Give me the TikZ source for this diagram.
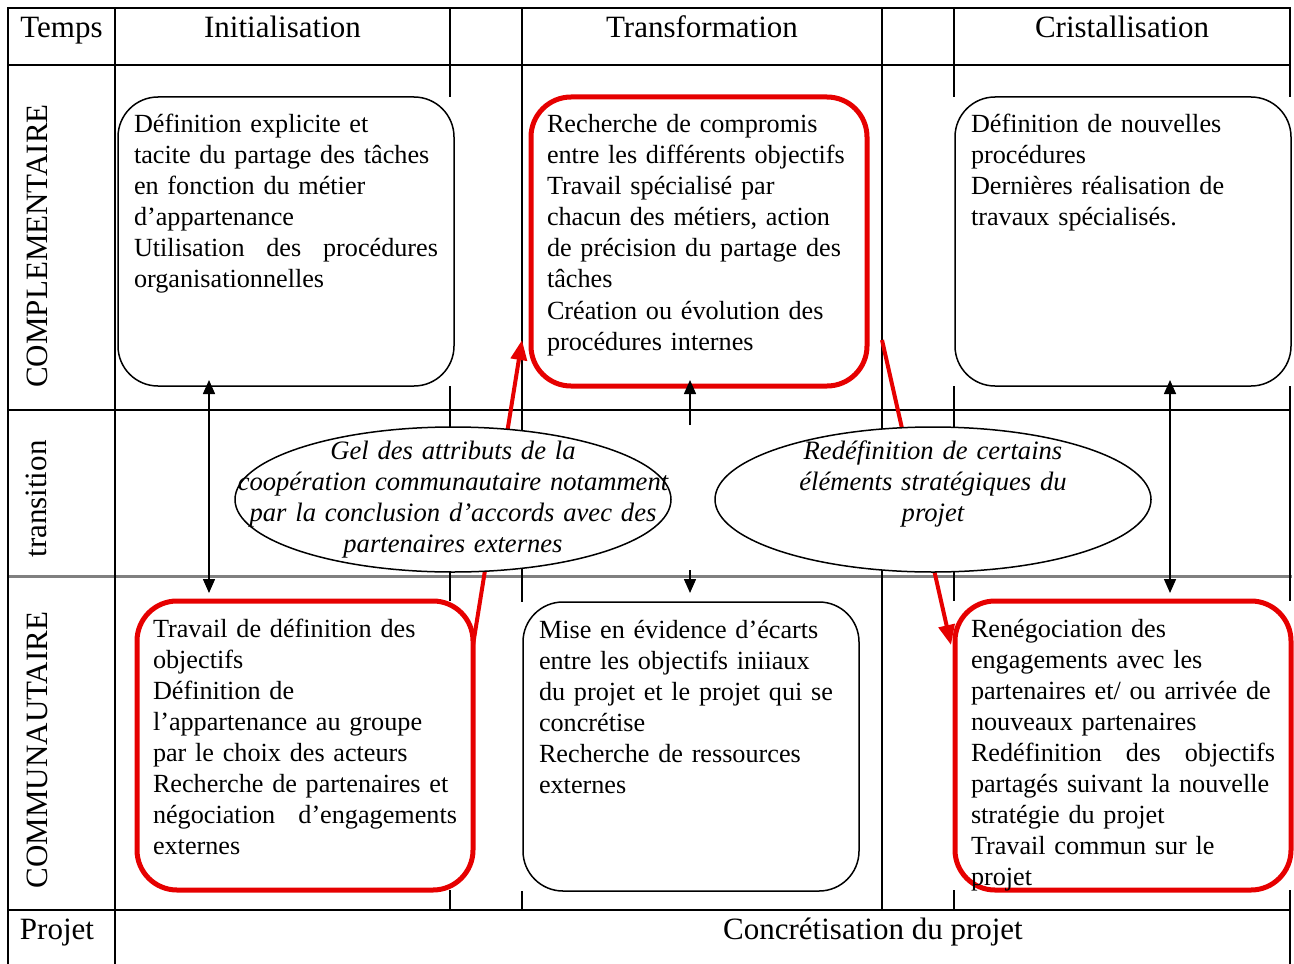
\documentclass[tikz,border=0pt]{standalone}
\usepackage{fontspec}
\setmainfont{Liberation Serif}
\usetikzlibrary{arrows.meta,shapes.geometric}
\definecolor{cpred}{HTML}{E60000}
\definecolor{cpgrey}{HTML}{808080}
\pgfdeclarelayer{grid}
\pgfdeclarelayer{cover}
\pgfsetlayers{grid,cover,main}
\hyphenpenalty=10000
\exhyphenpenalty=10000
\tikzset{
  cp rule/.style={line width=1pt, draw=black, line cap=rect},
  cp head/.style={font=\fontsize{15.5}{18}\selectfont, anchor=base},
  cp box/.style={draw=black, line width=0.75pt, rounded corners=20pt, anchor=north west,
    outer sep=0pt, text width=152pt, inner xsep=8pt, inner ysep=6pt,
    text height=12pt, text depth=120.5pt, align=left,
    font=\fontsize{13.1}{15.5}\selectfont},
  cp redbox/.style={cp box, draw=cpred, line width=2.5pt},
  cp oval/.style={ellipse, draw=black, line width=0.75pt, fill=white,
    minimum width=218pt, minimum height=72.5pt, inner xsep=-40pt, inner ysep=-6pt,
    text width=220pt, text height=9pt, text depth=49.5pt, align=center,
    font=\fontsize{13.3}{15.5}\selectfont\itshape},
  cp pair/.style={{Triangle[length=7pt,width=6pt]}-{Triangle[length=7pt,width=6pt]},
    line width=0.75pt},
  cp single/.style={-{Triangle[length=7pt,width=6pt]}, line width=0.75pt},
  cp link/.style={-{Triangle[length=10pt,width=8pt]}, line width=2pt, draw=cpred}
}
\begin{document}
\begin{tikzpicture}[x=0.5pt, y=-0.5pt]
  \useasboundingbox (0,0) rectangle (1294,963);
  \begin{pgfonlayer}{grid}
    \foreach \y in {8,65,410,910} \draw[cp rule] (8,\y) -- (1290,\y);
    \draw[cp rule, draw=cpgrey, line width=1.5pt] (8,576) -- (1290,576);
    \foreach \x in {8,115,1290} \draw[cp rule] (\x,8) -- (\x,963);
    \foreach \x in {450,522,882,954} \draw[cp rule] (\x,8) -- (\x,910);
  \end{pgfonlayer}

  \node[cp head] (temps) at (61.5,38) {Temps};
  \node[cp head] (init) at (282.5,38) {Initialisation};
  \node[cp head] (trans) at (702,38) {Transformation};
  \node[cp head] (crist) at (1122,38) {Cristallisation};
  \node[cp head, rotate=90] (compl) at (47,246) {COMPLEMENTAIRE};
  \node[cp head, rotate=90] (trlab) at (46,499) {transition};
  \node[cp head, rotate=90] (commu) at (47,750) {COMMUNAUTAIRE};
  \node[cp head] (projet) at (57,939) {Projet};
  \node[cp head] (concr) at (873,939) {Concrétisation du projet};

  \node[cp box] (a) at (118,97) {Définition explicite et\\
    tacite du partage des tâches\\
    en fonction du métier\\
    d’appartenance\\
    Utilisation\hfill des\hfill procédures\\
    organisationnelles};
  \node[cp redbox] (b) at (531,97) {Recherche de compromis\\
    entre les différents objectifs\\
    Travail spécialisé par\\
    chacun des métiers, action\\
    de précision du partage des\\
    tâches\\
    Création ou évolution des\\
    procédures internes};
  \node[cp box] (c) at (955,97) {Définition de nouvelles\\
    procédures\\
    Dernières réalisation de\\
    travaux spécialisés.};
  \node[cp redbox] (d) at (137,601) {Travail de définition des\\
    objectifs\\
    Définition de\\
    l’appartenance au groupe\\
    par le choix des acteurs\\
    Recherche de partenaires et\\
    négociation\hfill d’engagements\\
    externes};
  \node[cp box] (e) at (523,602) {Mise en évidence d’écarts\\
    entre les objectifs iniiaux\\
    du projet et le projet qui se\\
    concrétise\\
    Recherche de ressources\\
    externes};
  \node[cp redbox] (f) at (955,601) {Renégociation des\\
    engagements avec les\\
    partenaires et/ ou arrivée de\\
    nouveaux partenaires\\
    Redéfinition\hfill des\hfill objectifs\\
    partagés suivant la nouvelle\\
    stratégie du projet\\
    Travail commun sur le\\
    projet};

  \begin{pgfonlayer}{cover}
    \foreach \b in {a,b,c,d,e,f}
      \fill[white] ([xshift=-1pt]\b.south west) rectangle (\b.north east);
  \end{pgfonlayer}

  \draw[cp link] ([yshift=-22pt]d.north east) -- ([xshift=-4.5pt,yshift=23pt]b.south west);
  \draw[cp link] ([xshift=7.5pt,yshift=23pt]b.south east) -- ([xshift=-2pt,yshift=-22pt]f.north west);

  \node[cp oval] (gel) at (453,499.5) {Gel des attributs de la\\
    coopération communautaire notamment\\
    par la conclusion d’accords avec des\\
    partenaires externes};
  \node[cp oval] (redef) at (933,499.5) {Redéfinition de certains\\
    éléments stratégiques du\\
    projet};

  \draw[cp pair] ([xshift=45.5pt,yshift=3pt]a.south west) -- ([xshift=36pt,yshift=4pt]d.north west);
  \draw[cp pair] ([xshift=107.5pt,yshift=3pt]c.south west) -- ([xshift=107.5pt,yshift=4pt]f.north west);
  \draw[cp single] ([xshift=79.5pt,yshift=-19.5pt]b.south west) -- ([xshift=79.5pt,yshift=3pt]b.south west);
  \draw[cp single] ([xshift=83.5pt,yshift=16pt]e.north west) -- ([xshift=83.5pt,yshift=4.5pt]e.north west);
\end{tikzpicture}
\end{document}
